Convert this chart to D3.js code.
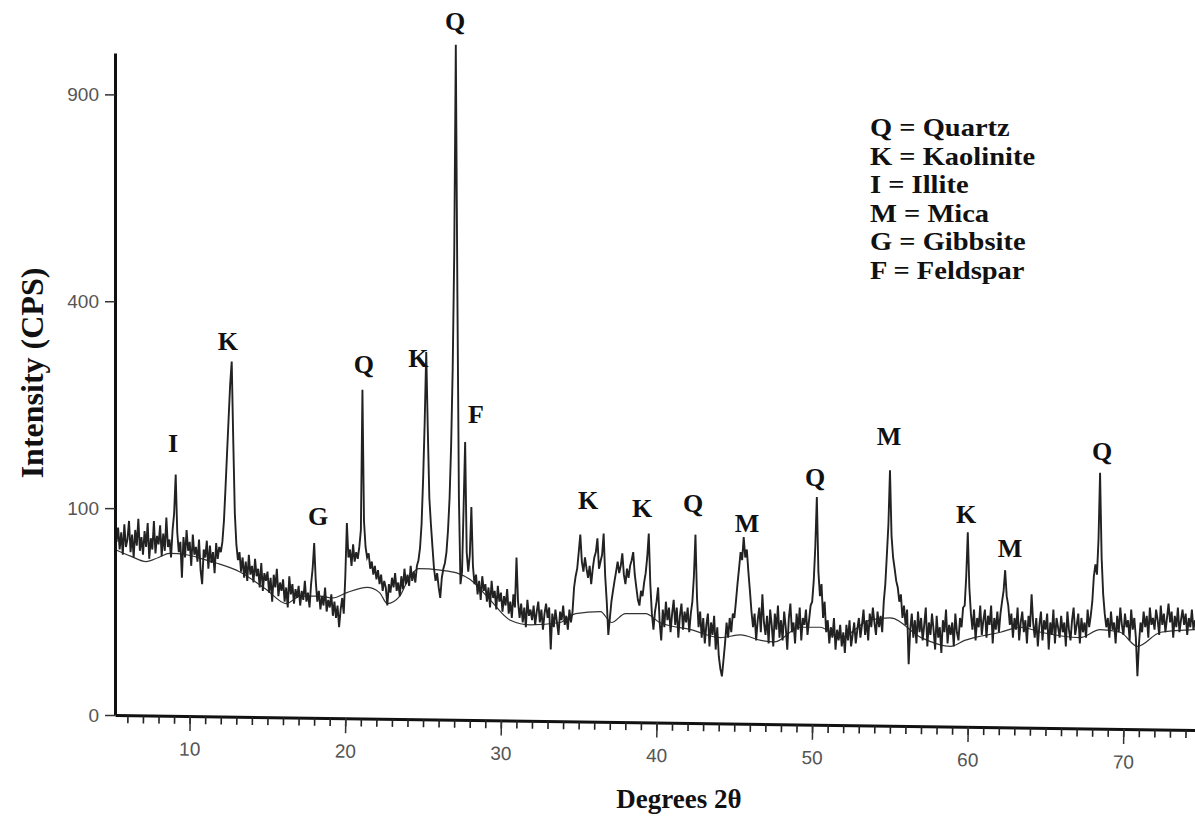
<!DOCTYPE html>
<html>
<head>
<meta charset="utf-8">
<script src="https://cdn.jsdelivr.net/npm/d3@7"></script>
<style>
  body { margin: 0; background: #fff; }
  svg { display: block; }
</style>
</head>
<body>
<svg id="chart" width="1195" height="820"></svg>
<script>
// XRD scan: counts, 2θ from 5.2° in 0.1° steps
const scanStart = 5.2, scanStep = 0.1;
const counts = [
  96, 70, 82, 64, 78, 60, 85, 66,                 // 5.2 - 5.9
  72, 88, 62, 76, 58, 80, 67, 90, 63, 74,         // 6
  60, 79, 66, 86, 57, 73, 64, 88, 61, 75,         // 7
  68, 84, 59, 77, 63, 91, 66, 72, 58, 80,         // 8
  95, 135, 78, 62, 70, 44, 74, 58, 80, 63,        // 9  (I)
  70, 52, 76, 60, 66, 55, 72, 49, 40, 64,         // 10
  58, 71, 50, 67, 54, 62, 47, 69, 57, 66,         // 11
  62, 70, 88, 120, 160, 205, 255, 292, 175, 95,   // 12 (K)
  68, 56, 62, 48, 58, 44, 55, 42, 60, 46,         // 13
  52, 41, 57, 45, 50, 38, 54, 36, 47, 42,         // 14
  48, 35, 44, 30, 46, 38, 50, 33, 41, 36,         // 15
  43, 30, 38, 27, 45, 34, 40, 29, 37, 32,         // 16
  39, 28, 36, 31, 42, 30, 35, 27, 40, 50,         // 17
  69, 42, 30, 36, 26, 33, 28, 38, 25, 31,         // 18 (G)
  27, 34, 23, 30, 22, 28, 18, 26, 32, 24,         // 19
  45, 86, 58, 64, 52, 68, 55, 62, 57, 66,         // 20
  80, 247, 88, 66, 58, 61, 50, 55, 46, 52,        // 21 (Q)
  43, 49, 40, 46, 36, 42, 38, 28, 40, 35,         // 22
  44, 38, 47, 36, 41, 33, 45, 37, 50, 40,         // 23
  46, 39, 52, 42, 48, 41, 52, 56, 65, 85,         // 24
  130, 200, 308, 190, 110, 85, 66, 50, 42, 47,    // 25 (K)
  38, 32, 44, 50, 54, 62, 80, 110, 170, 280,      // 26
  500, 1050, 420, 110, 40, 48, 100, 174, 62, 48,  // 27 (Q, F)
  60, 101, 52, 40, 46, 34, 42, 31, 45, 36,        // 28
  40, 30, 38, 27, 42, 32, 36, 26, 39, 30,         // 29
  35, 25, 33, 28, 37, 24, 30, 22, 34, 27,         // 30
  58, 30, 22, 29, 20, 27, 18, 31, 23, 26,         // 31
  21, 28, 19, 25, 30, 20, 26, 17, 24, 29,         // 32
  22, 27, 10, 24, 18, 26, 20, 15, 25, 21,         // 33
  28, 19, 23, 17, 26, 20, 25, 38, 45, 50,         // 34
  62, 76, 55, 48, 58, 50, 44, 52, 40, 50,         // 35 (K)
  58, 62, 73, 50, 55, 60, 77, 45, 30, 15,         // 36
  22, 30, 36, 42, 48, 55, 47, 52, 61, 46,         // 37
  40, 50, 44, 52, 56, 62, 46, 38, 31, 28,         // 38 (K)
  36, 33, 41, 47, 58, 77, 40, 24, 17, 25,         // 39
  30, 38, 20, 13, 26, 18, 30, 21, 27, 16,         // 40
  24, 31, 19, 27, 14, 23, 29, 17, 25, 20,         // 41
  27, 16, 24, 30, 45, 76, 32, 18, 25, 14,         // 42 (Q)
  22, 12, 19, 24, 11, 20, 15, 23, 10, 18,         // 43
  8, 5, 3.5, 7, 12, 20, 14, 22, 16, 24,           // 44
  22, 30, 40, 50, 62, 56, 74, 58, 64, 48,         // 45 (M)
  36, 25, 18, 24, 13, 21, 27, 16, 34, 20,         // 46
  15, 23, 12, 26, 19, 11, 24, 17, 28, 14,         // 47
  21, 13, 25, 18, 10, 22, 29, 16, 20, 12,         // 48
  24, 17, 27, 13, 22, 19, 26, 15, 21, 28,         // 49
  30, 42, 66, 111, 48, 33, 40, 22, 30, 16,        // 50 (Q)
  21, 12, 18, 14, 22, 10, 17, 13, 19, 11,         // 51
  16, 9, 19, 13, 21, 11, 15, 20, 12, 17,          // 52
  22, 14, 19, 26, 15, 21, 13, 24, 18, 27,         // 53
  20, 15, 25, 18, 23, 16, 30, 40, 60, 85,         // 54
  140, 75, 58, 50, 42, 38, 30, 34, 22, 28,        // 55 (M)
  19, 26, 6, 17, 24, 14, 21, 12, 25, 16,          // 56
  22, 13, 19, 27, 11, 20, 15, 24, 17, 10,         // 57
  23, 14, 18, 9, 21, 16, 26, 12, 19, 15,          // 58
  20, 11, 24, 16, 13, 22, 18, 27, 28, 45,         // 59
  78, 38, 24, 17, 26, 13, 22, 18, 28, 15,         // 60 (K)
  21, 26, 14, 23, 19, 28, 12, 22, 17, 25,         // 61
  16, 24, 30, 36, 49, 33, 28, 19, 24, 14,         // 62 (M)
  22, 17, 27, 13, 20, 25, 16, 21, 12, 23,         // 63
  18, 34, 20, 14, 22, 11, 19, 25, 13, 21,         // 64
  17, 24, 10, 20, 15, 26, 12, 22, 18, 14,         // 65
  23, 16, 20, 11, 25, 17, 13, 21, 27, 15,         // 66
  19, 24, 12, 22, 16, 20, 14, 26, 18, 23,         // 67
  30, 45, 53, 46, 72, 137, 58, 34, 24, 18,        // 68 (Q)
  22, 14, 25, 17, 20, 12, 23, 16, 27, 19,         // 69
  15, 24, 18, 21, 13, 26, 17, 22, 14, 3.5,        // 70
  12, 20, 16, 25, 18, 23, 14, 27, 19, 22,         // 71
  17, 26, 21, 15, 28, 19, 24, 16, 22, 29,         // 72
  20, 25, 14, 23, 18, 27, 16, 21, 26, 19,         // 73
  24, 15, 22, 18, 26, 17, 21                      // 74.0 - 74.6
];

// fitted background curve
const bgAngle  = [5.2, 6.2, 7.2, 8.0, 8.7, 9.8, 10.8, 11.7, 13.2, 14.9, 16.2, 17.1, 18.4, 19.2, 20.1, 21.4, 22.2, 22.7, 23.5, 24.0, 24.7, 26.1, 27.2, 28.0, 29.3, 30.6, 31.9, 33.8, 34.8, 36.4, 37.1, 38.0, 39.3, 40.2, 42.2, 44.1, 45.4, 46.7, 47.6, 49.2, 50.5, 51.8, 53.7, 55.0, 57.0, 58.9, 59.8, 62.1, 63.4, 64.7, 67.2, 68.5, 69.8, 70.9, 72.4, 74.6];
const bgCounts = [64, 59, 55, 58, 61, 60, 57, 54, 48, 37, 29, 33, 33, 32, 35, 38, 35, 29, 33, 42, 50, 49, 47, 43, 31, 21, 19, 20, 24, 25, 20, 24, 24, 20, 17, 14, 15, 13, 12.5, 18, 18, 14, 21, 22, 14, 11, 13, 16, 18, 16, 14, 17, 16, 11, 16, 17];

const yTicks = [0, 100, 400, 900];
const xTicks = [10, 20, 30, 40, 50, 60, 70];

// peak labels: letter, 2θ of label centre, intensity level of label baseline
const peakText  = ["Q", "K", "I", "Q", "K", "F", "G", "K", "K", "Q", "M", "Q", "M", "K", "M", "Q"];
const peakAngle = [27.05, 12.46, 8.93, 21.2, 24.7, 28.4, 18.25, 35.6, 39.07, 42.35, 45.82, 50.19, 54.94, 59.89, 62.72, 68.63];
const peakLevel = [1096, 311, 162, 273, 283, 199, 84, 99, 92, 96, 78, 122, 170, 86, 58, 152];

const legendItems = ["Q = Quartz", "K = Kaolinite", "I = Illite", "M = Mica", "G = Gibbsite", "F = Feldspar"];

const svg = d3.select("#chart");
const serif = "'Liberation Serif', 'Times New Roman', serif";
const sans = "'Liberation Sans', Arial, sans-serif";

const x = d3.scaleLinear().domain([5.2, 74.6]).range([115, 1195]);
const y = d3.scaleSqrt().domain([0, 1024]).range([715, 53]);

// background curve
const bg = bgAngle.map((a, i) => [a, bgCounts[i]]);
svg.append("path")
  .datum(bg)
  .attr("fill", "none")
  .attr("stroke", "#333")
  .attr("stroke-width", 1.2)
  .attr("d", d3.line().x(d => x(d[0])).y(d => y(d[1])).curve(d3.curveMonotoneX));

// scan trace
svg.append("path")
  .datum(counts)
  .attr("fill", "none")
  .attr("stroke", "#222")
  .attr("stroke-width", 1.9)
  .attr("stroke-linejoin", "miter")
  .attr("d", d3.line().x((d, i) => x(scanStart + i * scanStep)).y(d => y(d)));

// y axis
const yAxis = svg.append("g")
  .attr("transform", "translate(115,0)")
  .call(d3.axisLeft(y).tickValues(yTicks).tickSize(10).tickPadding(6).tickSizeOuter(0));
yAxis.select(".domain").attr("stroke", "#111").attr("stroke-width", 3);
yAxis.selectAll(".tick line").attr("stroke", "#333").attr("stroke-width", 1.5);
yAxis.selectAll(".tick text").attr("fill", "#555").style("font-family", sans).style("font-size", "19px");

// x axis (scan is slightly tilted)
const xg = svg.append("g").attr("transform", "translate(0,715) rotate(0.8,115,0)");
xg.append("g")
  .call(d3.axisBottom(x).tickValues(d3.range(6, 75)).tickSize(8).tickFormat("").tickSizeOuter(0))
  .call(g => g.select(".domain").attr("stroke", "#111").attr("stroke-width", 3))
  .call(g => g.selectAll(".tick line").attr("stroke", "#222").attr("stroke-width", 1.6));
xg.append("g")
  .call(d3.axisBottom(x).tickValues(xTicks).tickSize(15).tickPadding(11).tickSizeOuter(0))
  .call(g => g.select(".domain").remove())
  .call(g => g.selectAll(".tick line").attr("stroke", "#333").attr("stroke-width", 1.5))
  .call(g => g.selectAll(".tick text").attr("fill", "#555").style("font-family", sans).style("font-size", "19px"));

// axis titles
svg.append("text")
  .attr("x", 679).attr("y", 808)
  .attr("text-anchor", "middle")
  .style("font-family", serif).style("font-weight", "bold").style("font-size", "27px")
  .attr("fill", "#111")
  .text("Degrees 2θ");
svg.append("text")
  .attr("transform", "translate(43,373) rotate(-90)")
  .attr("text-anchor", "middle")
  .style("font-family", serif).style("font-weight", "bold").style("font-size", "32px")
  .attr("fill", "#111")
  .text("Intensity (CPS)");

// peak labels
svg.selectAll(".peak")
  .data(peakText)
  .enter()
  .append("text")
  .attr("class", "peak")
  .attr("x", (d, i) => x(peakAngle[i]))
  .attr("y", (d, i) => y(peakLevel[i]))
  .attr("text-anchor", "middle")
  .style("font-family", serif).style("font-weight", "bold").style("font-size", "26px")
  .attr("fill", "#111")
  .text(d => d);

// legend: tight leading, so a smaller font stretched to the printed width
const legend = svg.append("g")
  .selectAll("text")
  .data(legendItems)
  .enter()
  .append("text")
  .attr("x", 870)
  .attr("y", (d, i) => 136 + i * 28.6)
  .style("font-family", serif).style("font-weight", "bold").style("font-size", "25px")
  .attr("fill", "#111")
  .text(d => d);
legend.each(function() {
  const w = this.getComputedTextLength();
  d3.select(this).attr("textLength", w * 1.14).attr("lengthAdjust", "spacingAndGlyphs");
});
</script>
</body>
</html>
